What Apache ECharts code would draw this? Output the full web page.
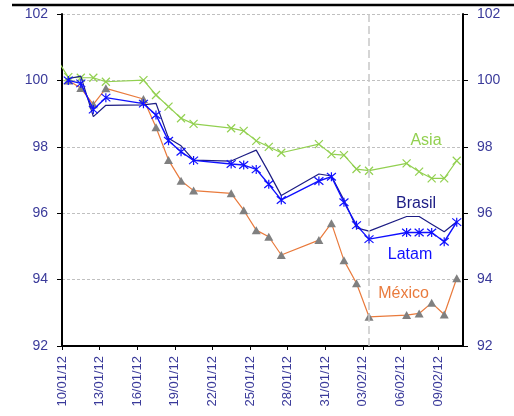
<!DOCTYPE html>
<html>
<head>
<meta charset="utf-8">
<script src="https://cdn.jsdelivr.net/npm/echarts@6/dist/echarts.min.js"></script>
<style>
  html, body { margin: 0; padding: 0; background: #ffffff; }
  #chart { width: 514px; height: 416px; }
</style>
</head>
<body>
<div id="chart"></div>
<script>
// Trading days (dd/mm/yy); the first date only feeds the Asia line's clipped lead-in.
const dates = ['09/01/12', '10/01/12', '11/01/12', '12/01/12', '13/01/12', '16/01/12', '17/01/12',
  '18/01/12', '19/01/12', '20/01/12', '23/01/12', '24/01/12', '25/01/12', '26/01/12', '27/01/12',
  '30/01/12', '31/01/12', '01/02/12', '02/02/12', '03/02/12', '06/02/12', '07/02/12', '08/02/12',
  '09/02/12', '10/02/12'];

// Index levels per region
const asia = [100.7, 100.1, 100.08, 100.08, 99.96, 100.01, 99.56, 99.21, 98.86, 98.69, 98.56, 98.48,
  98.18, 98.0, 97.82, 98.08, 97.78, 97.75, 97.33, 97.28, 97.5, 97.25, 97.05, 97.05, 97.58];
const brasil = [null, 100.05, 100.13, 98.91, 99.25, 99.26, 99.31, 98.26, 98.03, 97.6, 97.57, 97.74,
  97.9, 97.23, 96.53, 97.18, 97.12, 96.4, 95.56, 95.46, 95.9, 95.9, 95.67, 95.44, 95.74];
const latam = [null, 100.0, 99.91, 99.12, 99.48, 99.30, 98.96, 98.18, 97.85, 97.59, 97.48, 97.45,
  97.32, 96.87, 96.40, 96.97, 97.10, 96.33, 95.64, 95.22, 95.42, 95.42, 95.42, 95.14, 95.73];
const mexico = [null, 100.0, 99.77, 99.28, 99.76, 99.44, 98.59, 97.6, 96.98, 96.68, 96.6, 96.09,
  95.49, 95.29, 94.74, 95.19, 95.7, 94.58, 93.89, 92.88, 92.93, 92.98, 93.3, 92.95, 94.04];

// Date axis tick labels and the axis end date
const xTickLabels = ['10/01/12', '13/01/12', '16/01/12', '19/01/12', '22/01/12', '25/01/12',
  '28/01/12', '31/01/12', '03/02/12', '06/02/12', '09/02/12'];
const axisEndDate = '11/02/12';
const markerDate = '03/02/12';

// Value axis ticks
const yMin = 92, yMax = 102, yStep = 2;

const DAY = 86400000;
function parseDate(s) {
  const [d, m, y] = s.split('/').map(Number);
  return Date.UTC(2000 + y, m - 1, d);
}
const t0 = parseDate(xTickLabels[0]);
const dayOffset = s => (parseDate(s) - t0) / DAY;
// each trading day sits in the middle of its one-day slot
const slot = s => dayOffset(s) + 0.5;

const tickOffsets = xTickLabels.map(dayOffset);
const tickLookup = {};
xTickLabels.forEach((l, i) => { tickLookup[tickOffsets[i]] = l; });

const pairs = vals => dates.map((d, i) => [slot(d), vals[i]]);

const labelColor = '#3a3a9a';
const font = '"Liberation Sans", Arial, sans-serif';

const crossPath = 'path://M0,0L10,10M10,0L0,10';
const starPath = 'path://M0,0L10,10M10,0L0,10M5,-1L5,11';

const colAsia = '#92d050';
const colBrasil = '#1c1c84';
const colLatam = '#1010ff';
const colMexico = '#e97a3c';

const yAxisBase = {
  type: 'value', min: yMin, max: yMax, interval: yStep,
  axisLine: { show: true, lineStyle: { color: '#000', width: 2 } },
  axisTick: { show: true, inside: false, length: 5, lineStyle: { color: '#000', width: 1 } },
  axisLabel: { color: labelColor, fontFamily: font, fontSize: 14, margin: 14 }
};

const chart = echarts.init(document.getElementById('chart'), null, { renderer: 'canvas' });
chart.setOption({
  animation: false,
  backgroundColor: '#ffffff',
  grid: { left: 62, right: 51, top: 14, bottom: 70, containLabel: false },
  xAxis: {
    type: 'value', min: 0, max: dayOffset(axisEndDate),
    axisLine: { show: true, onZero: false, lineStyle: { color: '#000', width: 2 } },
    axisTick: { show: true, length: 4, customValues: tickOffsets, lineStyle: { color: '#000' } },
    axisLabel: {
      customValues: tickOffsets, rotate: 90, margin: 10,
      color: labelColor, fontFamily: font, fontSize: 13,
      formatter: v => tickLookup[v] || ''
    },
    splitLine: { show: false }
  },
  yAxis: [
    Object.assign({}, yAxisBase, {
      position: 'left',
      splitLine: { show: true, lineStyle: { color: '#c0c0c0', type: [3, 2], width: 1 } }
    }),
    Object.assign({}, yAxisBase, { position: 'right', splitLine: { show: false } })
  ],
  series: [
    {
      name: 'México', type: 'line', data: pairs(mexico), connectNulls: false,
      symbol: 'triangle', symbolSize: [9, 8],
      lineStyle: { color: colMexico, width: 1.2 },
      itemStyle: { color: '#808080' },
      z: 2
    },
    {
      name: 'Asia', type: 'line', data: pairs(asia),
      symbol: crossPath, symbolSize: 8,
      lineStyle: { color: colAsia, width: 1.2 },
      itemStyle: { color: colAsia, borderColor: colAsia, borderWidth: 1.2 },
      z: 3
    },
    {
      name: 'Brasil', type: 'line', data: pairs(brasil),
      symbol: 'none',
      lineStyle: { color: colBrasil, width: 1.2 },
      itemStyle: { color: colBrasil },
      z: 4
    },
    {
      name: 'Latam', type: 'line', data: pairs(latam),
      symbol: starPath, symbolSize: 9,
      lineStyle: { color: colLatam, width: 1.4 },
      itemStyle: { color: colLatam, borderColor: colLatam, borderWidth: 1.2 },
      z: 5,
      markLine: {
        silent: true, symbol: ['none', 'none'], animation: false,
        label: { show: false },
        lineStyle: { color: '#c8c8c8', type: [8, 4], width: 1.5 },
        data: [{ xAxis: slot(markerDate) }]
      }
    }
  ],
  graphic: [
    { type: 'line', shape: { x1: 12, y1: 5, x2: 514, y2: 5 }, style: { stroke: '#000', lineWidth: 2.5 }, silent: true },
    { type: 'text', x: 426, y: 140.5, style: { text: 'Asia', fill: colAsia, font: '16px ' + font, textAlign: 'center', textVerticalAlign: 'middle' } },
    { type: 'text', x: 416, y: 203.5, style: { text: 'Brasil', fill: colBrasil, font: '16px ' + font, textAlign: 'center', textVerticalAlign: 'middle' } },
    { type: 'text', x: 410, y: 254.5, style: { text: 'Latam', fill: colLatam, font: '16px ' + font, textAlign: 'center', textVerticalAlign: 'middle' } },
    { type: 'text', x: 403.5, y: 293.8, style: { text: 'México', fill: colMexico, font: '16px ' + font, textAlign: 'center', textVerticalAlign: 'middle' } }
  ]
});
</script>
</body>
</html>
